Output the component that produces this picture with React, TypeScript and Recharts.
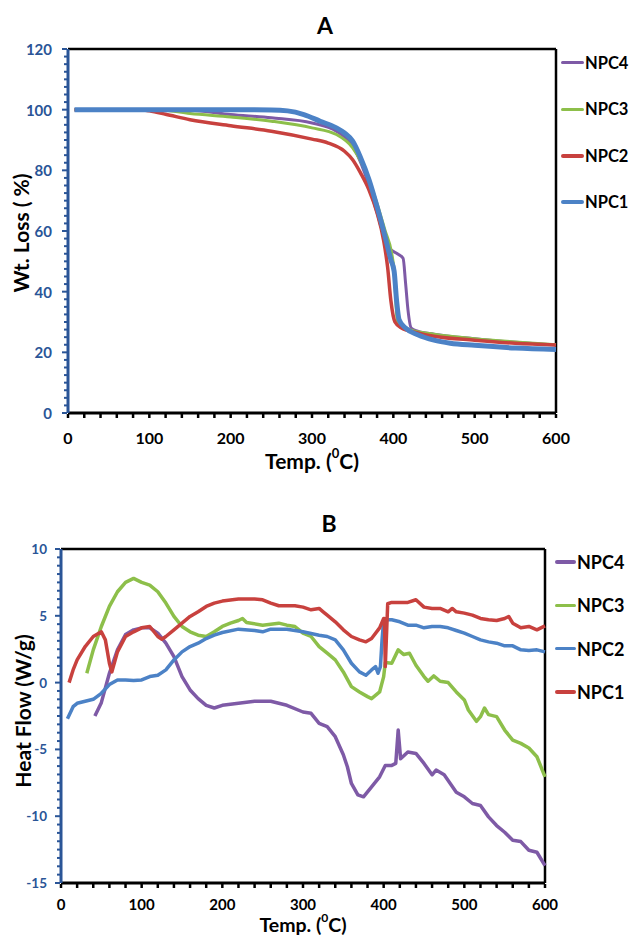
import React from 'react';
import { LineChart, Line, XAxis, YAxis, Legend, ReferenceLine } from 'recharts';

const FONT = 'Lato, "Open Sans", sans-serif';
const AXIS_BLUE = '#2A5597';
const PURPLE = '#7E5AA6';
const GREEN = '#8DBF4A';
const RED = '#C8413E';
const BLUE = '#4C82C6';

// x axis (temperature, shared by both panels)
const TEMP_TICKS = [0, 100, 200, 300, 400, 500, 600];
// panel A y axis
const WT_TICKS = [0, 20, 40, 60, 80, 100, 120];
// panel B y axis
const HF_TICKS = [-15, -10, -5, 0, 5, 10];

// ---- panel A : TGA, [temp, wt %]
const npc1Tga = [[8, 100], [100, 100], [200, 100], [250, 99.9], [270, 99.6], [290, 98.4], [310, 96.2], [330, 94], [340, 92.3], [350, 89.6], [360, 84], [370, 77], [380, 68], [390, 58], [397, 50.5], [401, 46.7], [404, 37], [407, 30.8], [415, 28], [430, 25.8], [450, 24], [470, 23], [500, 22.3], [550, 21.4], [600, 20.9]];
const npc2Tga = [[8, 100], [90, 100], [100, 99.6], [120, 98.5], [150, 96.7], [200, 94.7], [250, 92.9], [300, 90.3], [320, 89], [340, 86.3], [350, 83.5], [360, 79], [370, 73.6], [380, 66], [388, 57], [393, 48], [397, 37], [402, 30], [410, 28], [430, 26.4], [450, 25.3], [500, 24], [550, 23], [600, 22.4]];
const npc3Tga = [[8, 100], [110, 100], [150, 98.7], [200, 97.6], [250, 96.2], [300, 94], [330, 91.8], [350, 87.4], [360, 83], [370, 77], [380, 69], [390, 60], [398, 52.7], [401, 47], [405, 30], [420, 27.5], [450, 26], [500, 24.5], [550, 23.4], [600, 22.5]];
const npc4Tga = [[8, 100], [150, 99.8], [200, 98.4], [250, 97.3], [300, 95.6], [330, 92.9], [350, 88], [365, 79], [380, 66], [390, 57], [395, 54.4], [405, 52.5], [412, 51], [415, 43], [418, 34], [422, 28], [430, 27], [450, 26], [500, 24.5], [550, 23.3], [600, 22.4]];

// ---- panel B : DSC, [temp, W/g]
const npc1Dsc = [[10, 0], [15, 0.95], [20, 1.7], [30, 2.7], [40, 3.45], [50, 3.8], [55, 3.2], [60, 1.45], [63, 0.8], [70, 2.3], [80, 3.45], [90, 3.8], [100, 4.1], [110, 4.2], [120, 3.45], [125, 3.25], [130, 3.45], [140, 3.95], [150, 4.45], [160, 4.95], [170, 5.3], [180, 5.7], [190, 5.95], [200, 6.1], [220, 6.25], [240, 6.25], [250, 6.2], [260, 5.95], [270, 5.75], [290, 5.75], [300, 5.65], [310, 5.45], [320, 5.55], [325, 5.3], [330, 5.05], [340, 4.55], [350, 3.95], [360, 3.45], [370, 3.2], [378, 3.05], [385, 3.3], [395, 4.1], [400, 4.8], [401, 4.8], [402, 1.2], [405, 5.9], [410, 6.0], [420, 6.0], [430, 6.0], [440, 6.2], [450, 5.65], [460, 5.55], [470, 5.55], [480, 5.3], [485, 5.55], [490, 5.3], [500, 5.2], [510, 5.05], [520, 4.8], [530, 4.7], [540, 4.65], [550, 4.8], [555, 4.95], [560, 4.45], [570, 4.1], [580, 4.2], [590, 3.95], [600, 4.25]];
const npc2Dsc = [[8, -2.7], [15, -1.8], [20, -1.55], [30, -1.4], [40, -1.25], [50, -0.8], [60, -0.15], [70, 0.2], [80, 0.2], [90, 0.15], [100, 0.2], [110, 0.45], [120, 0.55], [130, 0.95], [140, 1.7], [150, 2.3], [160, 2.7], [170, 2.95], [180, 3.3], [190, 3.55], [200, 3.75], [220, 4.0], [240, 3.9], [250, 3.8], [260, 4.0], [280, 4.0], [300, 3.8], [320, 3.55], [330, 3.45], [340, 3.2], [350, 2.45], [360, 1.45], [370, 0.8], [378, 0.55], [385, 0.95], [390, 1.2], [393, 0.7], [396, 1.2], [398, 3.2], [400, 4.7], [410, 4.7], [420, 4.55], [430, 4.3], [440, 4.3], [450, 4.1], [460, 4.2], [470, 4.2], [480, 4.1], [490, 3.9], [500, 3.7], [510, 3.45], [520, 3.2], [530, 3.05], [540, 2.95], [550, 2.75], [560, 2.75], [570, 2.45], [580, 2.4], [590, 2.45], [600, 2.3]];
const npc3Dsc = [[32, 0.7], [40, 2.45], [50, 4.2], [60, 5.7], [70, 6.8], [80, 7.5], [90, 7.8], [100, 7.5], [110, 7.3], [120, 6.8], [130, 5.95], [140, 4.95], [150, 4.2], [160, 3.8], [170, 3.55], [180, 3.45], [190, 3.8], [200, 4.2], [210, 4.45], [220, 4.65], [225, 4.8], [230, 4.5], [250, 4.3], [270, 4.45], [280, 4.3], [290, 4.2], [300, 3.7], [310, 3.45], [320, 2.7], [330, 2.2], [340, 1.7], [350, 0.8], [360, -0.3], [370, -0.7], [380, -1.05], [385, -1.2], [395, -0.7], [400, 0.45], [402, 1.5], [410, 1.45], [418, 2.45], [425, 2.1], [432, 2.2], [440, 1.3], [450, 0.45], [455, 0.1], [462, 0.5], [470, 0.1], [480, 0], [490, -0.7], [500, -1.3], [505, -2.05], [515, -2.9], [520, -2.55], [525, -1.9], [530, -2.4], [540, -2.55], [550, -3.55], [560, -4.3], [570, -4.55], [580, -4.9], [590, -5.55], [600, -7.05]];
const npc4Dsc = [[42, -2.5], [50, -1.5], [60, 0.7], [70, 2.45], [80, 3.6], [90, 3.95], [100, 4.1], [110, 4.1], [120, 3.7], [130, 2.95], [140, 1.95], [150, 0.45], [160, -0.55], [170, -1.2], [180, -1.7], [190, -1.9], [200, -1.7], [220, -1.55], [240, -1.4], [260, -1.4], [280, -1.7], [300, -2.2], [310, -2.3], [320, -3.05], [330, -3.3], [340, -4.05], [350, -5.4], [355, -6.3], [360, -7.55], [368, -8.4], [375, -8.55], [385, -7.8], [395, -7.05], [402, -6.2], [410, -6.2], [415, -6.05], [418, -3.55], [421, -5.7], [430, -5.2], [440, -5.3], [450, -6.05], [460, -6.9], [465, -6.55], [475, -6.9], [490, -8.2], [500, -8.55], [510, -9.05], [520, -9.2], [530, -10.05], [540, -10.7], [550, -11.2], [560, -11.8], [570, -11.9], [580, -12.55], [590, -12.7], [600, -13.7]];

const toPts = (arr: number[][]) => arr.map(([t, v]) => ({ t, v }));

// major ticks plus evenly spaced minor ticks between them
const withMinors = (majors: number[], parts: number) => {
  const out: number[] = [];
  majors.forEach((m, i) => {
    out.push(m);
    if (i < majors.length - 1) {
      const step = (majors[i + 1] - m) / parts;
      for (let k = 1; k < parts; k++) out.push(m + k * step);
    }
  });
  return out;
};

const tgaSeries = [
  { name: 'NPC4', color: PURPLE, width: 3, pts: toPts(npc4Tga) },
  { name: 'NPC3', color: GREEN, width: 3, pts: toPts(npc3Tga) },
  { name: 'NPC2', color: RED, width: 3.5, pts: toPts(npc2Tga) },
  { name: 'NPC1', color: BLUE, width: 5, pts: toPts(npc1Tga) },
];

const dscSeries = [
  { name: 'NPC4', color: PURPLE, width: 3.5, pts: toPts(npc4Dsc) },
  { name: 'NPC3', color: GREEN, width: 3.5, pts: toPts(npc3Dsc) },
  { name: 'NPC2', color: BLUE, width: 3.5, pts: toPts(npc2Dsc) },
  { name: 'NPC1', color: RED, width: 3.5, pts: toPts(npc1Dsc) },
];

const makeYTick = (majors: number[], gap: number, fontSize: number) => (props: any) => {
  const { x, y, payload } = props;
  const major = majors.includes(payload.value);
  return (
    <g>
      <line x1={x - 1} x2={x - (major ? 6 : 4)} y1={y} y2={y} stroke={AXIS_BLUE} strokeWidth={2} />
      {major && (
        <text x={x - gap} y={y} textAnchor="end" dominantBaseline="central" fill={AXIS_BLUE}
          fontSize={fontSize} fontWeight={700} fontFamily={FONT}>
          {payload.value}
        </text>
      )}
    </g>
  );
};

const makeXTick = (majors: number[], dy: number, fontSize: number) => (props: any) => {
  const { x, y, payload } = props;
  const major = majors.includes(payload.value);
  return (
    <g>
      <line x1={x} x2={x} y1={y + 1} y2={y + 5} stroke="#000" strokeWidth={2.5} />
      {major && (
        <text x={x} y={y + dy} textAnchor="middle" dominantBaseline="central" fill="#000"
          fontSize={fontSize} fontWeight={700} fontFamily={FONT}>
          {payload.value}
        </text>
      )}
    </g>
  );
};

const tempLabel = (dy: number, fontSize: number) => (props: any) => {
  const vb = props.viewBox;
  return (
    <text x={vb.x + vb.width / 2} y={vb.y + dy} textAnchor="middle" dominantBaseline="central"
      fontSize={fontSize} fontWeight={700} fontFamily={FONT} fill="#000">
      Temp. (<tspan dy={-7} fontSize={fontSize * 0.62}>0</tspan><tspan dy={7}>C)</tspan>
    </text>
  );
};

const yTitle = (text: string, cx: number, dy: number, fontSize: number) => (props: any) => {
  const vb = props.viewBox;
  const cy = vb.y + vb.height / 2 + dy;
  return (
    <text x={cx} y={cy} transform={`rotate(-90 ${cx} ${cy})`} textAnchor="middle" dominantBaseline="central"
      fontSize={fontSize} fontWeight={700} fontFamily={FONT} fill="#000">
      {text}
    </text>
  );
};

function LegendList({ items, rowH, lineW, fontSize }: any) {
  return (
    <div style={{ fontFamily: FONT }}>
      {items.map((s: any) => (
        <div key={s.name} style={{ display: 'flex', alignItems: 'center', height: rowH }}>
          <div style={{ width: lineW, height: Math.min(s.width, 4), background: s.color, borderRadius: 2 }} />
          <span style={{ fontSize, fontWeight: 700, color: '#000', marginLeft: 1, lineHeight: 1 }}>{s.name}</span>
        </div>
      ))}
    </div>
  );
}

export default function App() {
  const tempTicks = withMinors(TEMP_TICKS, 5);
  const wtTicks = withMinors(WT_TICKS, 8);
  const hfTicks = withMinors(HF_TICKS, 8);

  return (
    <div style={{ position: 'absolute', left: 0, top: 0, width: 632, height: 936, background: '#fff', fontFamily: FONT }}>
      {/* Panel A */}
      <div style={{ position: 'absolute', left: 0, top: 0, width: 632, height: 482 }}>
        <div style={{ position: 'absolute', left: 0, width: 632, top: 10, textAlign: 'center', fontSize: 23, fontWeight: 700, paddingLeft: 18, boxSizing: 'border-box', lineHeight: '30px' }}>A</div>
        <LineChart width={632} height={482} margin={{ top: 49, right: 76, bottom: 0, left: 8 }}>
          <XAxis type="number" dataKey="t" domain={[0, 600]} ticks={tempTicks} interval={0}
            tickSize={0} tickMargin={0} tickLine={false} height={69}
            axisLine={{ stroke: '#000', strokeWidth: 3 }}
            tick={makeXTick(TEMP_TICKS, 24, 16)} label={tempLabel(47, 21)} />
          <YAxis type="number" domain={[0, 120]} ticks={wtTicks} interval={0} width={60}
            tickSize={0} tickMargin={0} tickLine={false}
            axisLine={{ stroke: AXIS_BLUE, strokeWidth: 3 }}
            tick={makeYTick(WT_TICKS, 16, 15)} label={yTitle('Wt. Loss ( %)', 20, 2, 21)} />
          <ReferenceLine y={120} stroke="#000" strokeWidth={2.5} />
          <ReferenceLine x={600} stroke="#000" strokeWidth={2.5} />
          {tgaSeries.map(s => (
            <Line key={s.name} name={s.name} data={s.pts} dataKey="v" type="monotone" stroke={s.color}
              strokeWidth={s.width} dot={false} isAnimationActive={false} strokeLinejoin="round" />
          ))}
          <Legend layout="vertical" align="center" verticalAlign="middle"
            wrapperStyle={{ left: 561, top: 39.5, width: 75 }}
            content={() => <LegendList items={tgaSeries} rowH={46.5} lineW={23} fontSize={16.5} />} />
        </LineChart>
      </div>

      {/* Panel B */}
      <div style={{ position: 'absolute', left: 0, top: 482, width: 632, height: 454 }}>
        <div style={{ position: 'absolute', left: 0, width: 632, top: 26, textAlign: 'center', fontSize: 23, fontWeight: 700, paddingLeft: 26, boxSizing: 'border-box', lineHeight: '30px' }}>B</div>
        <LineChart width={632} height={454} margin={{ top: 67, right: 87, bottom: 0, left: 8 }}>
          <XAxis type="number" dataKey="t" domain={[0, 600]} ticks={tempTicks} interval={0}
            tickSize={0} tickMargin={0} tickLine={false} height={53}
            axisLine={{ stroke: '#000', strokeWidth: 3 }}
            tick={makeXTick(TEMP_TICKS, 21, 15)} label={tempLabel(41, 19.5)} />
          <YAxis type="number" domain={[-15, 10]} ticks={hfTicks} interval={0} width={53}
            tickSize={0} tickMargin={0} tickLine={false}
            axisLine={{ stroke: AXIS_BLUE, strokeWidth: 3 }}
            tick={makeYTick(HF_TICKS, 14, 13.5)} label={yTitle('Heat Flow (W/g)', 22, -5, 21)} />
          <ReferenceLine y={10} stroke="#000" strokeWidth={2.5} />
          <ReferenceLine x={600} stroke="#000" strokeWidth={2.5} />
          {dscSeries.map(s => (
            <Line key={s.name} name={s.name} data={s.pts} dataKey="v" type="linear" stroke={s.color}
              strokeWidth={s.width} dot={false} isAnimationActive={false} strokeLinejoin="round" />
          ))}
          <Legend layout="vertical" align="center" verticalAlign="middle"
            wrapperStyle={{ left: 555, top: 58.5, width: 80 }}
            content={() => <LegendList items={dscSeries} rowH={43.3} lineW={21} fontSize={18} />} />
        </LineChart>
      </div>
    </div>
  );
}
